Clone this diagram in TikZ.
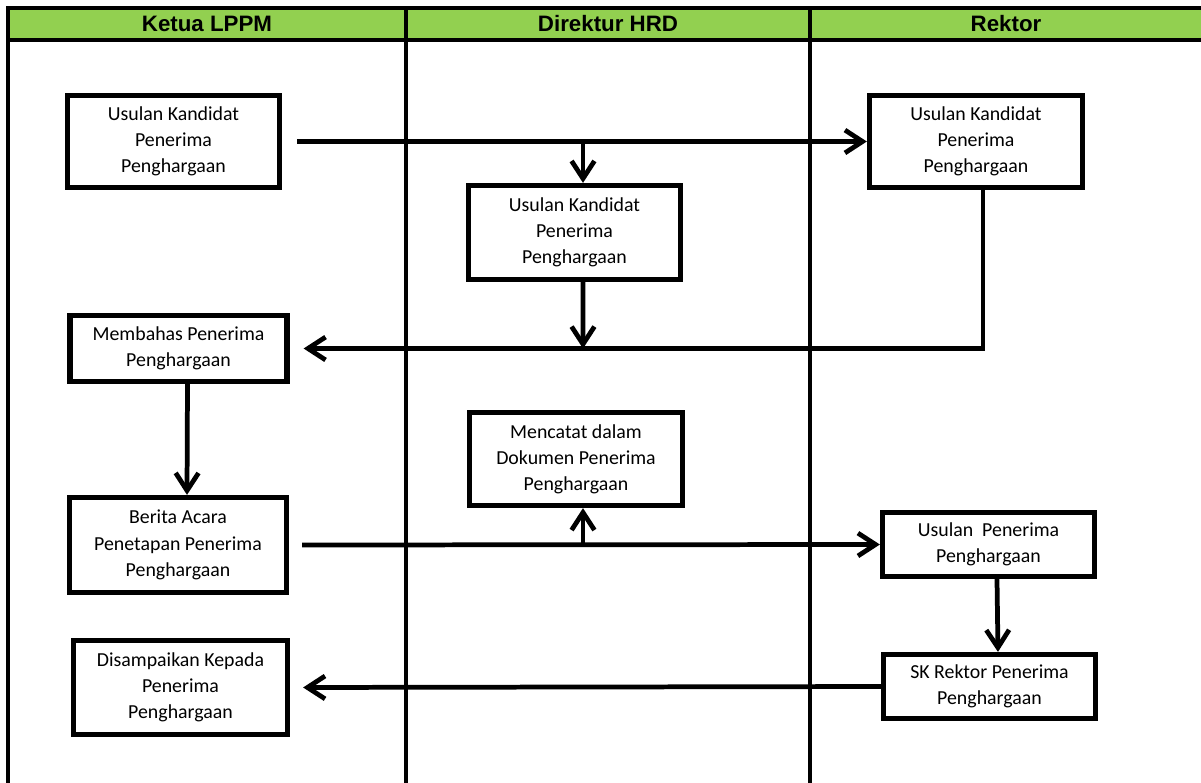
\documentclass[tikz,border=0pt]{standalone}
\usepackage{fontspec}
\setmainfont{Carlito}
\newfontfamily\headfont{Liberation Sans}
\usepackage{tikz}
\usetikzlibrary{arrows.meta}
\definecolor{lanegreen}{HTML}{92D050}

\tikzset{
	proses/.style={draw, line width=3pt, align=center, inner sep=2pt,
		font=\fontsize{11.3}{14.9}\selectfont},
	alur/.style={line width=2.7pt, -{Straight Barb[length=10pt,width=13pt]}},
	judul/.style={font=\headfont\bfseries\fontsize{12.7}{14}\selectfont},
}

\begin{document}
\begin{tikzpicture}[x=0.02cm, y=-0.02cm]
	\useasboundingbox (0,0) rectangle (1201,782);
	\clip (0,0) rectangle (1201,782);
	% swimlane frame
	\fill[lanegreen] (8,8) rectangle (1210,39);
	\draw[line width=1.8pt] (8,800) -- (8,8) -- (1210,8);
	\draw[line width=2.8pt] (8,40) -- (1210,40);
	\draw[line width=2.3pt] (406,8) -- (406,800);
	\draw[line width=2.3pt] (810,8) -- (810,800);
	\node[judul] (lane1) at (207,24) {Ketua LPPM};
	\node[judul] (lane2) at (608,24) {Direktur HRD};
	\node[judul] (lane3) at (1006,24) {Rektor};
	% boxes
	\node[proses, minimum width=4.24cm, minimum height=1.84cm] (usulan1) at (173.5,141.5) {Usulan Kandidat\\Penerima\\Penghargaan};
	\node[proses, minimum width=4.24cm, minimum height=1.88cm] (usulan2) at (574.5,232.5) {Usulan Kandidat\\Penerima\\Penghargaan};
	\node[proses, minimum width=4.26cm, minimum height=1.84cm] (usulan3) at (976,141.5) {Usulan Kandidat\\Penerima\\Penghargaan};
	\node[proses, minimum width=4.34cm, minimum height=1.32cm] (membahas) at (178.5,348.5) {Membahas Penerima\\Penghargaan};
	\node[proses, minimum width=4.34cm, minimum height=1.90cm] (berita) at (178,545) {Berita Acara\\Penetapan Penerima\\Penghargaan};
	\node[proses, minimum width=4.26cm, minimum height=1.86cm] (mencatat) at (576,459) {Mencatat dalam\\Dokumen Penerima\\Penghargaan};
	\node[proses, minimum width=4.24cm, minimum height=1.28cm] (usulan4) at (988.5,544.5) {Usulan\ \ Penerima\\Penghargaan};
	\node[proses, minimum width=4.24cm, minimum height=1.28cm] (skrektor) at (989.5,686.5) {SK Rektor Penerima\\Penghargaan};
	\node[proses, minimum width=4.28cm, minimum height=1.88cm] (disampaikan) at (180.5,687.5) {Disampaikan Kepada\\Penerima\\Penghargaan};
	% junctions
	\coordinate (cabang1) at (583,141.5);
	\coordinate (cabang2) at (583,348.5);
	\coordinate (cabang3) at (583,545);
	% connectors
	\draw[alur, shorten <=0.3cm] (usulan1.east) -- (usulan3.west);
	\draw[alur] (cabang1) -- (cabang1 |- usulan2.north);
	\draw[alur, shorten >=0.28cm] ([xshift=0.14cm]usulan3.south) |- (membahas.east);
	\draw[alur] ([xshift=0.17cm]usulan2.south) -- (cabang2);
	\draw[alur] ([xshift=0.18cm]membahas.south) -- ([xshift=0.18cm]berita.north);
	\draw[alur, shorten <=0.26cm] (berita.east) -- (usulan4.west);
	\draw[alur] (cabang3) -- (cabang3 |- mencatat.south);
	\draw[alur] ([xshift=0.17cm]usulan4.south) -- ([xshift=0.17cm]skrektor.north);
	\draw[alur, shorten >=0.26cm] (skrektor.west) -- (disampaikan.east);
\end{tikzpicture}
\end{document}
